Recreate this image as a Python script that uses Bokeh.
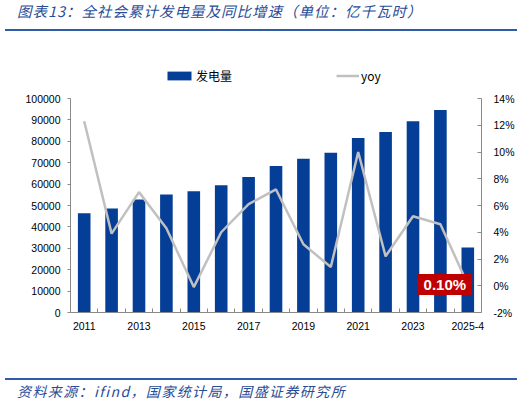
from bokeh.plotting import figure
from bokeh.layouts import column
from bokeh.models import (Range1d, LinearAxis, FixedTicker, NumeralTickFormatter,
                          PrintfTickFormatter, Legend, LegendItem, ColumnDataSource, Div)
from bokeh.core.properties import value
from bokeh.embed import file_html
from bokeh.resources import INLINE

categories = ["2011", "2012", "2013", "2014", "2015", "2016", "2017", "2018",
              "2019", "2020", "2021", "2022", "2023", "2024", "2025-4"]
generation = [46400, 48600, 52800, 55100, 56700, 59500, 63300, 68400,
              71800, 74600, 81600, 84300, 89400, 94600, 30400]
yoy = [12.3, 3.9, 7.0, 4.3, -0.1, 4.0, 6.1, 7.2, 3.1, 1.4, 10.0, 2.2, 5.2, 4.6, 0.1]
shown_labels = ["2011", "2013", "2015", "2017", "2019", "2021", "2023", "2025-4"]
left_ticks = [0, 10000, 20000, 30000, 40000, 50000, 60000, 70000, 80000, 90000, 100000]
right_ticks = [-2, 0, 2, 4, 6, 8, 10, 12, 14]
callout_text = ["0.10%"]

title_text = "图表13：全社会累计发电量及同比增速（单位：亿千瓦时）"
source_text = "资料来源：ifind，国家统计局，国盛证券研究所"

BAR = "#053E96"
LINE = "#C0C0C0"
AXIS = "#8A8A8A"
BLUE_TXT = "#2A4C96"
RULE = "#2F5BA7"
TICK_FONT = "Liberation Sans"
W = 531

# ---------------- header (title + rule) ----------------
title_div = Div(
    text=('<div style="position:relative;margin-left:5px;width:512px;height:31px;'
          'border-bottom:2px solid %s;">'
          '<span style="position:absolute;left:12px;top:2px;white-space:nowrap;'
          'font-family:\'Noto Sans CJK SC\';font-style:italic;font-size:14.5px;'
          'letter-spacing:1px;line-height:18px;color:%s;">%s</span></div>')
    % (RULE, BLUE_TXT, title_text),
    width=W, height=33, margin=(0, 0, 0, 0))

# ---------------- main chart ----------------
MAIN_H = 345
TOP_B = 27        # frame top at 60 px of page
BOT_B = 66        # frame bottom at 312 px of page
FRAME_H = MAIN_H - TOP_B - BOT_B    # 252
AXIS_SPAN = 214   # px covered by the value axes
left_end = left_ticks[-1] * FRAME_H / AXIS_SPAN
right_end = right_ticks[0] + (right_ticks[-1] - right_ticks[0]) * FRAME_H / AXIS_SPAN

idx = list(range(len(categories)))
p = figure(width=W, height=MAIN_H, x_range=Range1d(-0.5, len(categories) - 0.5),
           y_range=Range1d(0, left_end), output_backend="svg", toolbar_location=None,
           min_border_left=70, min_border_right=50, min_border_top=TOP_B,
           min_border_bottom=BOT_B)
p.outline_line_color = None
p.xgrid.visible = False
p.ygrid.visible = False
p.background_fill_color = "white"
p.border_fill_color = "white"
p.extra_y_ranges = {"yoy": Range1d(right_ticks[0], right_end)}

bars = p.vbar(x=idx, top=generation, width=0.46, fill_color=BAR, line_color=None)
line = p.line(x=idx, y=yoy, y_range_name="yoy", line_color=LINE, line_width=2.5)

src = ColumnDataSource(dict(x=[idx[-1]], y=[yoy[-1]], t=callout_text))
p.text(x="x", y="y", text="t", source=src, y_range_name="yoy", x_offset=-23,
       text_align="center", text_baseline="middle", text_color="white",
       text_font=value("Liberation Sans"), text_font_style="bold", text_font_size="15px",
       background_fill_color="#C00000", padding=(6, 2))

xa = p.xaxis[0]
xa.ticker = FixedTicker(ticks=idx, minor_ticks=[i + 0.5 for i in idx[:-1]])
xa.major_label_overrides = {i: (c if c in shown_labels else "") for i, c in zip(idx, categories)}
xa.major_tick_line_color = None
xa.major_tick_in = 0
xa.major_tick_out = 0
xa.minor_tick_in = 4
xa.minor_tick_out = 0
xa.minor_tick_line_color = AXIS
xa.axis_line_color = AXIS
xa.major_label_standoff = 9
xa.major_label_text_font = TICK_FONT
xa.major_label_text_font_size = "10.5px"
xa.major_label_text_color = "black"

ya = p.yaxis[0]
ya.ticker = FixedTicker(ticks=left_ticks)
ya.bounds = (left_ticks[0], left_ticks[-1])
ya.formatter = NumeralTickFormatter(format="0")
ya.axis_line_color = AXIS
ya.major_tick_line_color = AXIS
ya.major_tick_in = 0
ya.major_tick_out = 3
ya.minor_tick_line_color = None
ya.major_label_standoff = 7
ya.major_label_text_font = TICK_FONT
ya.major_label_text_font_size = "10.5px"
ya.major_label_text_color = "black"

ra = LinearAxis(y_range_name="yoy", ticker=FixedTicker(ticks=right_ticks),
                formatter=PrintfTickFormatter(format="%d%%"),
                bounds=(right_ticks[0], right_ticks[-1]))
ra.axis_line_color = AXIS
ra.major_tick_line_color = AXIS
ra.major_tick_in = 4
ra.major_tick_out = 0
ra.minor_tick_line_color = None
ra.major_label_standoff = 12
ra.major_label_text_font = TICK_FONT
ra.major_label_text_font_size = "10.5px"
ra.major_label_text_color = "black"
p.add_layout(ra, "right")

leg_common = dict(orientation="horizontal", label_standoff=2, padding=0, margin=0,
                  border_line_color=None, background_fill_alpha=0, label_height=12,
                  label_text_font="Noto Sans CJK SC", label_text_font_size="12px",
                  label_text_color="black")
p.add_layout(Legend(items=[LegendItem(label="发电量", renderers=[bars])], location=(94, 228),
                    glyph_width=30, glyph_height=11, **leg_common))
p.add_layout(Legend(items=[LegendItem(label="yoy", renderers=[line])], location=(266, 228),
                    glyph_width=23, glyph_height=11, **leg_common))

# ---------------- footer (rule + source) ----------------
source_div = Div(
    text=('<div style="position:relative;margin-left:5px;width:512px;height:24px;'
          'border-top:2px solid %s;">'
          '<span style="position:absolute;left:12px;top:2.5px;white-space:nowrap;'
          'font-family:\'Noto Sans CJK SC\';font-style:italic;font-size:14px;'
          'letter-spacing:1.4px;line-height:16px;color:%s;">%s</span></div>')
    % (RULE, BLUE_TXT, source_text),
    width=W, height=26, margin=(0, 0, 0, 0))

layout = column(title_div, p, source_div, spacing=0)
open("out.html", "w").write(file_html(layout, INLINE))
